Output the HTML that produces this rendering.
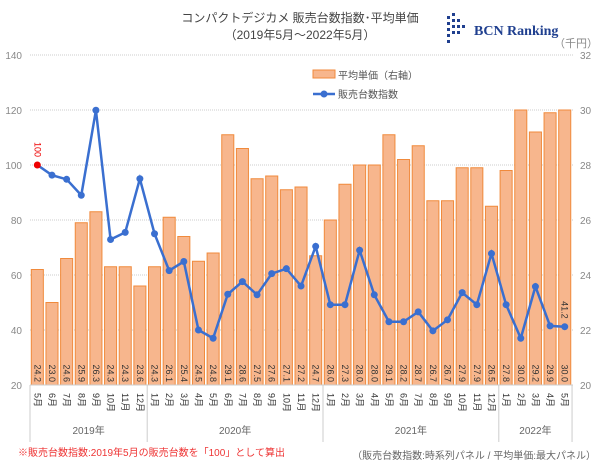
<!DOCTYPE html>
<html><head><meta charset="utf-8"><style>
body{margin:0;background:#fff;}
svg text{font-family:"Liberation Sans","Noto Sans CJK JP",sans-serif;}
</style></head><body>
<svg id="s" width="600" height="464" viewBox="0 0 600 464" xmlns="http://www.w3.org/2000/svg">
<text x="300" y="22" font-size="12" fill="#444" text-anchor="middle">コンパクトデジカメ 販売台数指数･平均単価</text>
<text x="300" y="39" font-size="12" fill="#444" text-anchor="middle">（2019年5月～2022年5月）</text>
<g fill="#1f3f8f">
<rect x="447" y="16" width="3" height="3"/><rect x="447" y="22" width="3" height="3"/><rect x="447" y="28" width="3" height="3"/><rect x="447" y="34" width="3" height="3"/><rect x="447" y="40" width="3" height="3"/>
<rect x="452" y="13" width="3" height="3"/><rect x="452" y="19" width="3" height="3"/><rect x="452" y="25" width="3" height="3"/><rect x="452" y="31" width="3" height="3"/>
<rect x="457" y="19" width="3" height="3"/><rect x="457" y="25" width="3" height="3"/><rect x="457" y="31" width="3" height="3"/><rect x="462" y="25" width="3" height="3"/>
</g>
<text x="474" y="35" font-size="14" font-weight="bold" fill="#1f3f8f" style="font-family:'Liberation Serif',serif">BCN Ranking</text>
<text x="598" y="47" font-size="11" fill="#888" text-anchor="end">（千円）</text>
<g id="grid"></g>
<g id="bars"></g>
<g id="line"></g>
<g id="xl"></g>
<rect x="313" y="70" width="22" height="8" fill="#f7b68d" stroke="#f08a3c"/>
<text x="338" y="79" font-size="10" fill="#555">平均単価（右軸）</text>
<line x1="313" y1="94" x2="335" y2="94" stroke="#3a6fd0" stroke-width="2.5"/><circle cx="324" cy="94" r="3.5" fill="#3a6fd0"/>
<text x="338" y="98" font-size="10" fill="#555">販売台数指数</text>
<text x="18" y="456" font-size="10" fill="#e33">※販売台数指数:2019年5月の販売台数を「100」として算出</text>
<text x="596" y="459" font-size="10" fill="#666" text-anchor="end">（販売台数指数:時系列パネル / 平均単価:最大パネル）</text>
</svg>
<script>
const NS="http://www.w3.org/2000/svg";
function el(p,t,a,txt){const e=document.createElementNS(NS,t);for(const k in a)e.setAttribute(k,a[k]);if(txt!=null)e.textContent=txt;document.getElementById(p).appendChild(e);return e;}
const price=[24.2,23.0,24.6,25.9,26.3,24.3,24.3,23.6,24.3,26.1,25.4,24.5,24.8,29.1,28.6,27.5,27.6,27.1,27.2,24.7,26.0,27.3,28.0,28.0,29.1,28.2,28.7,26.7,26.7,27.9,27.9,26.5,27.8,30.0,29.2,29.9,30.0];
const idx=[100,96.3,94.8,89,119.9,72.9,75.5,95,75,61.6,64.9,40,37,53,57.6,52.8,60.5,62.3,56,70.4,49.2,49.2,69,52.8,43,43,46.6,39.7,43.7,53.6,49.2,67.8,49.2,37,55.8,41.5,41.2];
const x0=30,w=14.65,yb=385,pxu=55/20;
for(let v=20;v<=140;v+=20){const y=yb-(v-20)*pxu;
 if(v>20)el("grid","line",{x1:30,x2:573,y1:y,y2:y,stroke:"#ccc","stroke-dasharray":"1 1"});
 el("grid","text",{x:22,y:y+4,"font-size":10,fill:"#888","text-anchor":"end"},v);
 el("grid","text",{x:580,y:y+4,"font-size":10,fill:"#888"},20+(v-20)/10);}
price.forEach((p,i)=>{const top=yb-(p-20)*55/2;const x=x0+i*w+1.3;
 el("bars","rect",{x:x,y:top,width:w-2.6,height:yb-top,fill:"#f7b68d",stroke:"#f08a3c","stroke-width":1});
 const cx=x0+i*w+w/2;
 el("bars","text",{x:0,y:0,"font-size":9,fill:"#333",transform:`translate(${cx-3},${yb-3}) rotate(90)`,"text-anchor":"end"},p.toFixed(1));});
let pts=idx.map((v,i)=>[x0+i*w+w/2,yb-(v-20)*pxu]);
el("line","polyline",{points:pts.map(p=>p.join(",")).join(" "),fill:"none",stroke:"#3a6fd0","stroke-width":2.5});
pts.forEach((p,i)=>el("line","circle",{cx:p[0],cy:p[1],r:3.5,fill:i?"#3a6fd0":"#e00"}));
el("line","text",{x:0,y:0,"font-size":9,fill:"#e00",transform:`translate(${pts[0][0]-3},${pts[0][1]-8}) rotate(90)`,"text-anchor":"end"},"100");
el("line","text",{x:0,y:0,"font-size":9,fill:"#333",transform:`translate(${pts[36][0]-3},${pts[36][1]-8}) rotate(90)`,"text-anchor":"end"},"41.2");
const months=[5,6,7,8,9,10,11,12,1,2,3,4,5,6,7,8,9,10,11,12,1,2,3,4,5,6,7,8,9,10,11,12,1,2,3,4,5];
months.forEach((m,i)=>{const cx=x0+i*w+w/2;
 el("xl","text",{x:0,y:0,"font-size":9,fill:"#333",transform:`translate(${cx-3},${yb+8}) rotate(90)`},m+"月");});
[0,8,20,32,37].forEach(i=>{const x=x0+i*w;el("xl","line",{x1:x,x2:x,y1:yb,y2:442,stroke:"#ccc"});});
[["2019年",0,8],["2020年",8,20],["2021年",20,32],["2022年",32,37]].forEach(([t,a,b])=>
 el("xl","text",{x:x0+(a+b)/2*w,y:434,"font-size":10,fill:"#666","text-anchor":"middle"},t));
el("xl","line",{x1:30,x2:573,y1:yb,y2:yb,stroke:"#ccc"});
</script>
</body></html>
